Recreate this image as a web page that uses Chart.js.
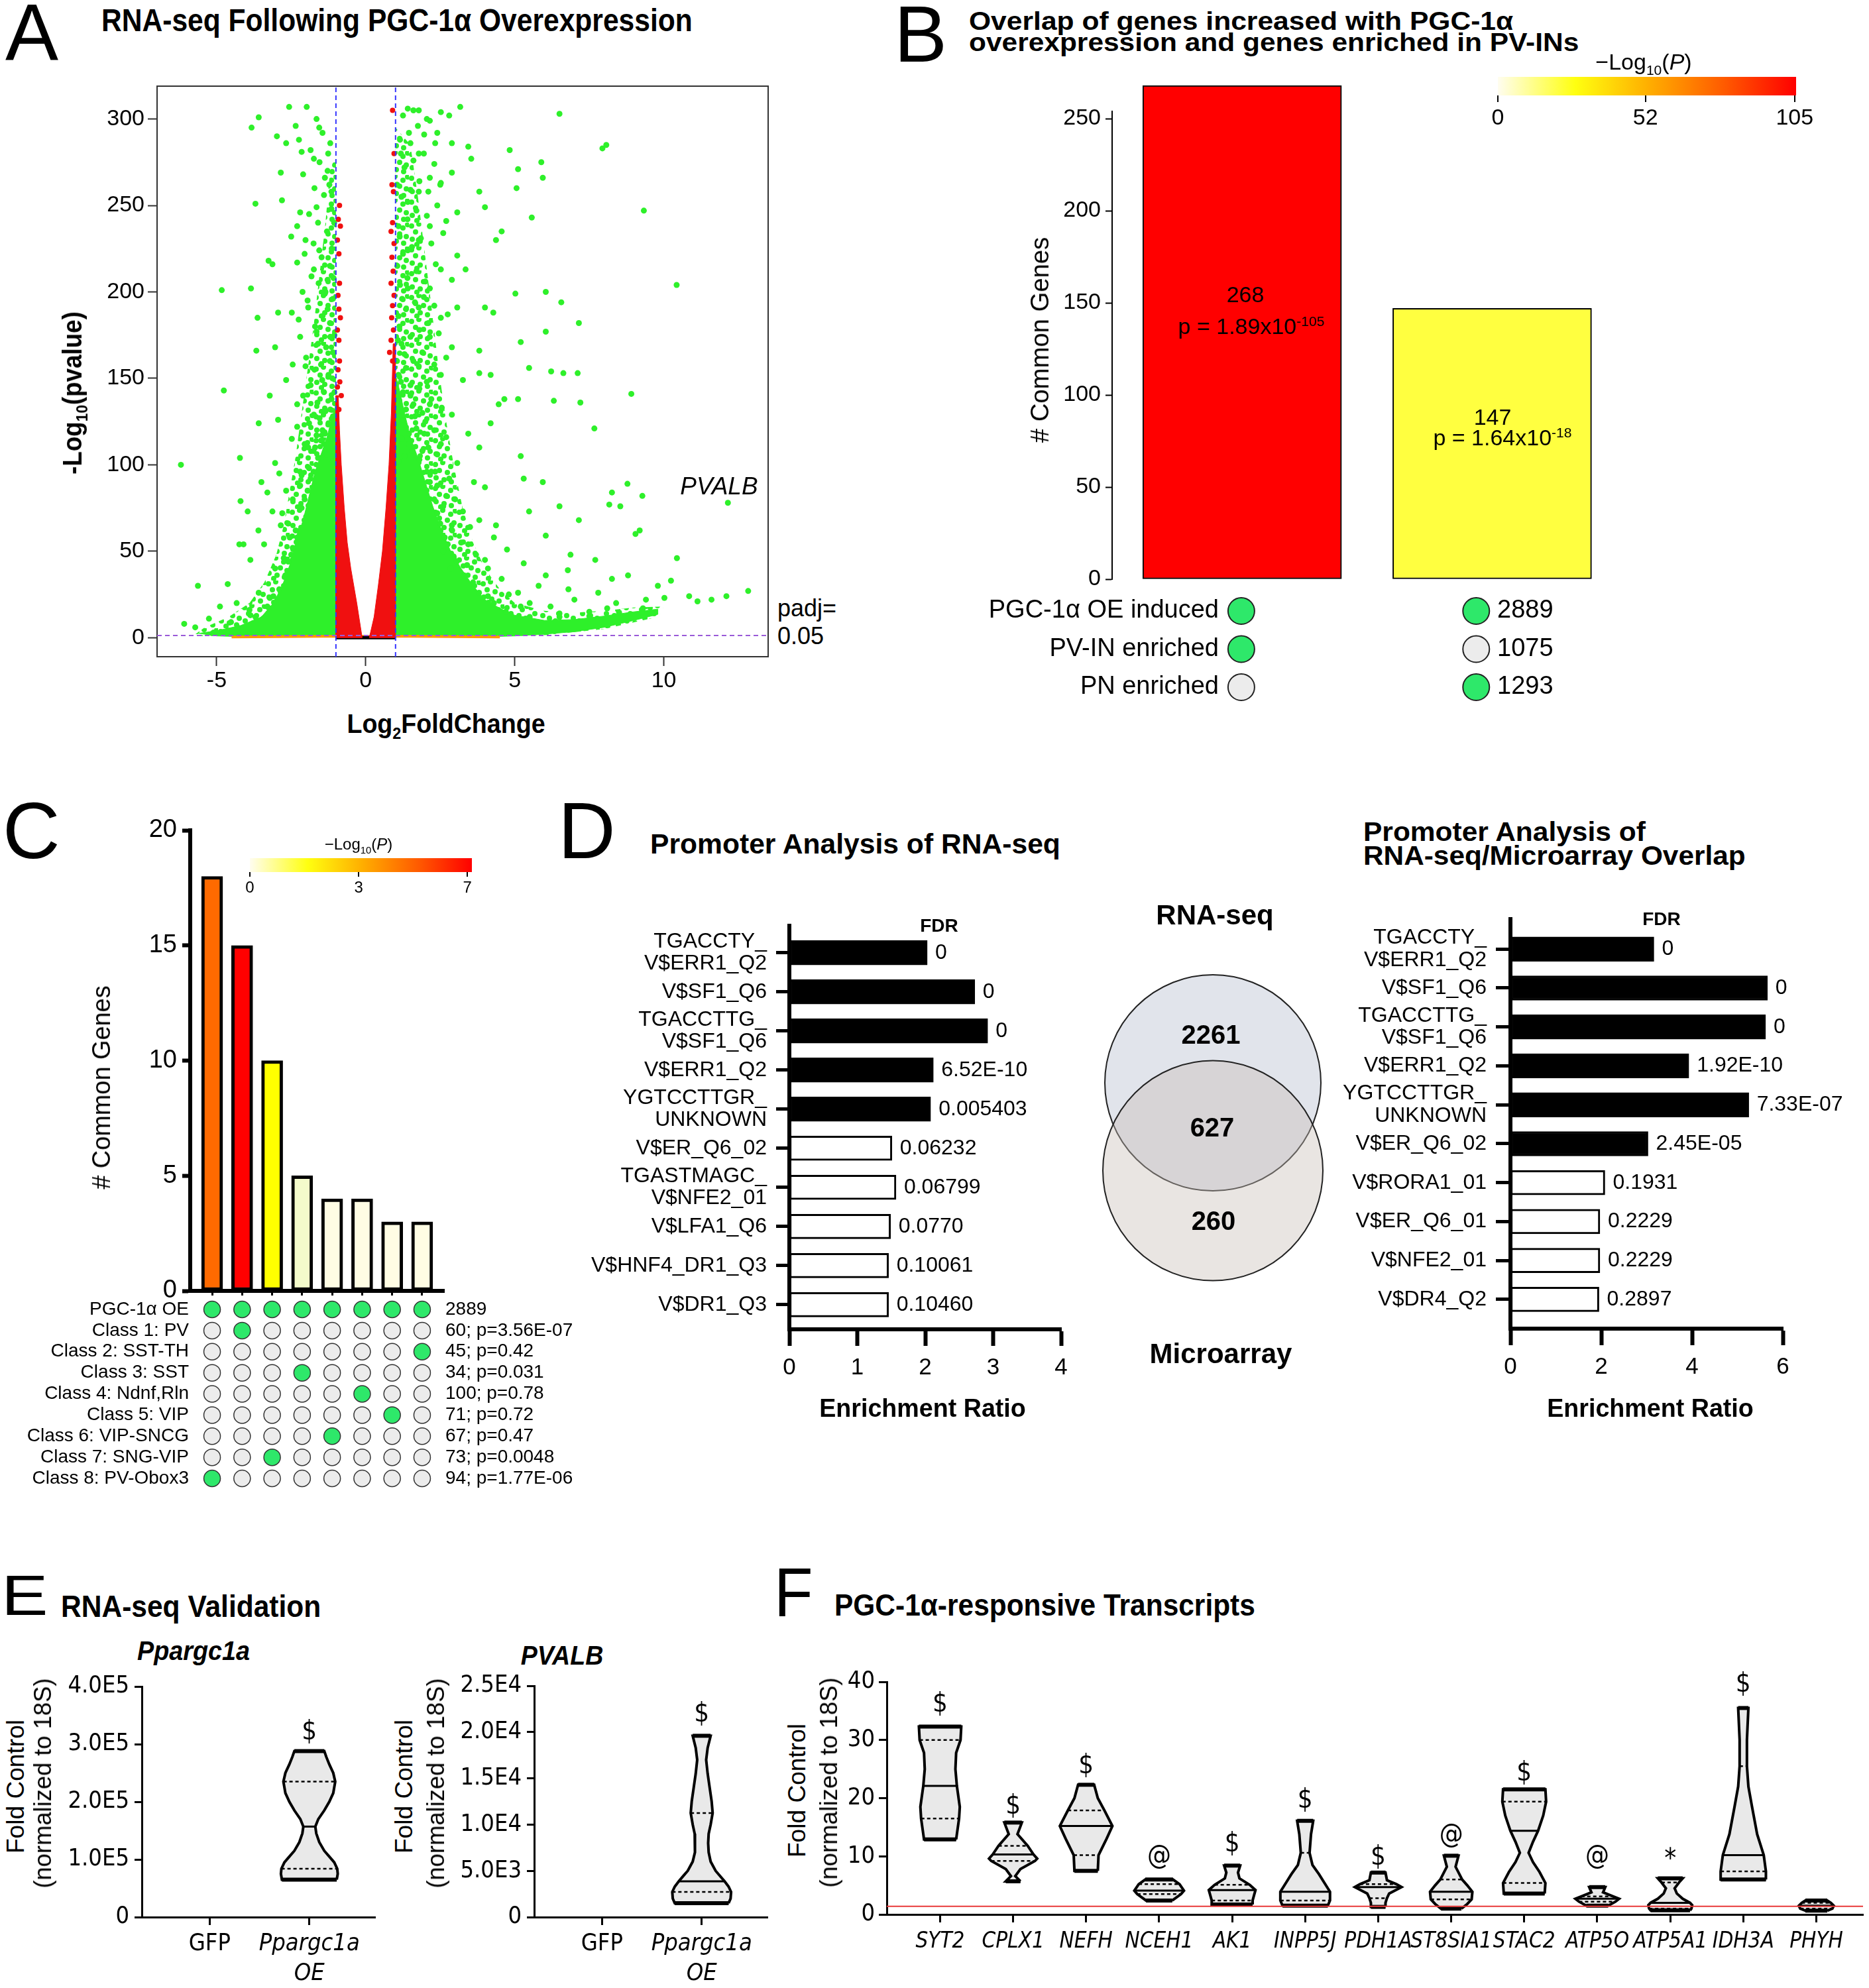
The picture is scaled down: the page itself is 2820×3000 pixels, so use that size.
<!DOCTYPE html>
<html>
<head>
<meta charset="utf-8">
<title>PGC-1α RNA-seq figure</title>
<script src="https://cdn.jsdelivr.net/npm/chart.js@4.4.1/dist/chart.umd.min.js"></script>
<style>
  body { margin: 0; background: #fff; }
  #page { position: relative; width: 2820px; height: 3000px; overflow: hidden; background: #fff; font-family: "Liberation Sans", Arial, sans-serif; }
  #page canvas { position: absolute; }
  .t { position: absolute; white-space: nowrap; line-height: 1; color: #000; transform-origin: 0 0; }
  .t sub, .t sup { font-size: 62%; line-height: 0; }
  .cb { position: absolute; }
</style>
</head>
<body>
<div id="page"></div>
<script>
// ---------- A: volcano plot ----------
const aXTicks = [-5, 0, 5, 10];
const aYTicks = [0, 50, 100, 150, 200, 250, 300];
const aXMin = -7, aXMax = 13.5, aYMin = -11, aYMax = 319;
const fcCut = 1;
const padjLevel = 1.3;
const greenPts = [
  [-6.2,100],[-4.83,201],[-4.76,143],[-5.63,30],[-4.63,31],[-4.22,104],[-4.2,79],[-3.85,202],[-3.83,295],[-3.59,301],
  [-3.7,251],[-3.63,185],[-3.67,166],[-4.24,54],[-4.1,54],[-3.87,45],[-3.6,62],[-3.26,218],[-3.13,216],[-2.98,290],
  [-2.94,188],[-3.04,168],[-2.85,269],[-2.81,253],[-2.67,286],[-2.57,307],[-1.98,307],[-2.24,288],[-2.15,281],[-1.56,295],
  [-1.74,277],[-1.19,286],[-1.26,280],[-1.37,266],[-1.15,258],[-1.65,249],[-2.2,246],[-2.3,238],[-2.02,230],[-1.56,224],
  [-2.3,217],[-1.74,213],[-1.28,207],[-1.37,199],[-1.93,191],[-2.48,188],[-2.2,174],[-1.65,177],[-1.19,174],[-2.02,157],
  [-2.67,149],[-3.22,140],[-1.46,149],[-2.3,135],[-1.74,129],[-1.19,132],[-2.94,126],[-3.59,124],[-2.48,115],[-1.93,110],
  [-1.37,118],[-3.04,101],[-2.2,96],[-3.5,90],[-2.67,85],[-3.96,73],[-3.13,73],[-3.41,54],[-2.85,65],[-4.89,18],
  [-4.33,20],[-5.26,11],[-5.72,6],[-6.09,8],[-3.59,26],[-3.04,40],[-3.22,23],[-3.87,13],[-4.52,9],
  [-1.1,102],[-1.3,106],[-1.5,104],[-1.75,108],[-2.05,112],[-1.2,115],[-1.45,120],[-1.65,117],[-1.9,124],[-2.3,122],
  [-1.1,128],[-1.35,131],[-1.55,127],[-1.15,138],[-1.4,142],[-1.62,136],[-1.85,146],[-2.1,140],[-1.25,152],[-1.5,158],
  [-1.72,155],[-2.0,162],[-2.45,158],[-1.1,165],[-1.33,168],[-1.6,170],[-1.2,182],[-1.45,186],[-1.7,180],[-1.95,195],
  [-2.25,184],[-1.1,196],[-1.35,200],[-1.58,205],[-1.82,209],[-2.12,200],[-1.2,215],[-1.48,220],[-1.75,228],[-2.05,222],
  [-1.3,235],[-1.6,240],[-1.9,245],[-2.5,232],[-1.15,248],[-1.4,256],[-1.72,260],[-1.28,270],[-1.55,275],[-1.85,282],
  [-2.1,268],[-1.45,292],[-1.65,300],[-2.35,296],
  [-2.3,58],[-2.6,66],[-2.45,80],[-2.2,88],[-2.8,72],[-1.9,98],[-2.15,94],[-3.3,84],[-2.9,95],
  [-2.7,36],[-2.5,48],[-2.35,62],[-2.15,75],[-1.95,85],[-1.75,96],[-3.3,18],[-3.7,12],[-4.3,6],[-2.9,28],
  [-2.45,52],[-3.1,24],[-2.6,44],[-2.05,80],[-1.85,92],[-1.6,104],[-1.4,112],[-1.25,124],[-1.08,118],[-1.18,108],
  [-1.05,142],[-1.12,150],[-1.2,160],[-1.05,175],[-1.28,190],[-1.08,208],[-1.14,225],[-1.06,240],[-1.22,262],
  [-3.9,16],[-4.6,4],[-5.1,3],[-2.75,46],[-2.55,58],[-2.0,70],[-1.7,110],[-1.5,114],
  [6.5,303],[8.07,285],[7.94,283],[4.83,282],[5.89,275],[5.94,266],[5.11,271],[5.06,260],[5.57,243],[9.33,247],
  [10.43,204],[5.02,199],[6.04,200],[6.56,194],[6.04,177],[7.15,182],[5.2,171],[5.48,156],[6.22,154],[6.63,153],
  [7.11,153],[5.11,138],[6.31,137],[7.2,136],[8.91,141],[7.67,121],[8.26,84],[8.78,89],[9.28,82],[8.17,77],
  [8.54,76],[7.15,68],[9.19,62],[9.05,60],[10.44,46],[10.24,33],[12.15,78],[10.85,24],[11.13,21],[11.6,22],
  [12.1,24],[12.83,27],[10.02,23],[6.5,76],[6.04,59],[5.48,73],[5.3,92],[5.2,105],[5.94,90],[6.87,48],
  [7.7,45],[8.26,34],[6.78,39],[6.04,36],[5.3,43],[4.74,51],[4.37,65],[4,87],[3.81,110],[4.19,124],
  [4.46,135],[4.65,138],[4.19,152],[3.81,153],[3.81,166],[4.28,188],[4,191],[4.37,230],[4.56,235],[4,249],
  [3.81,258],[3.54,277],[3.44,284],[3.17,307],[2.8,302],[2.52,304],[2.15,299],[1.78,305],[1.41,306],[2.89,286],
  [2.33,286],[1.96,291],[1.78,280],[1.5,286],[2.89,269],[2.52,263],[2.15,266],[1.78,258],[1.41,252],[3.07,246],
  [2.7,241],[2.15,238],[1.78,230],[1.41,224],[3.07,221],[3.35,213],[2.89,207],[2.52,213],[2.15,202],[1.78,191],
  [1.41,202],[1.13,180],[2.52,185],[3.07,191],[2.15,174],[2.89,168],[1.78,157],[2.52,152],[3.26,149],[1.5,140],
  [2.15,135],[2.89,129],[3.44,118],[2.52,112],[1.96,118],[3.07,101],[2.33,96],[3.63,90],[2.7,82],[3.26,73],
  [3.81,68],[2.89,65],[3.44,54],[4,45],[4.56,34],[5.11,26],
  [1.1,102],[1.3,105],[1.55,108],[1.8,103],[2.1,110],[2.4,106],[1.2,115],[1.45,118],[1.7,121],[2.0,125],
  [2.3,120],[2.7,116],[1.1,128],[1.35,132],[1.6,135],[1.9,130],[2.2,138],[2.55,133],[1.25,142],[1.5,146],
  [1.8,144],[2.05,148],[1.1,152],[1.35,156],[1.6,160],[1.9,165],[2.3,158],[2.7,162],[1.2,170],[1.5,174],
  [1.8,178],[2.1,182],[2.45,176],[1.1,186],[1.35,190],[1.65,194],[1.95,197],[2.3,192],[2.75,187],[1.15,204],
  [1.4,208],[1.7,212],[2.0,206],[2.35,216],[1.25,222],[1.55,226],[1.85,231],[2.2,228],[2.6,234],[1.1,238],
  [1.4,242],[1.7,247],[2.05,244],[2.4,250],[1.2,255],[1.5,259],[1.8,264],[2.1,258],[2.5,262],[1.3,272],
  [1.6,276],[1.95,280],[2.3,274],[1.15,288],[1.45,292],[1.75,296],[2.05,300],[2.4,292],[1.25,302],[1.6,305],
  [3.4,42],[3.2,55],[2.9,62],[3.7,48],[4.1,40],[2.6,76],[3.0,80],[2.4,88],[2.2,96],[3.5,64],[4.3,58],[2.8,92],
  [5.5,20],[6.2,18],[7,22],[7.5,15],[8.4,20],[6.8,28],[5.8,30],[4.8,25],[9.8,30],[8.8,36],[6.5,14],[7.8,26],
  [5.2,18],[9.4,22],[8.1,17],
  [3.3,36],[2.95,47],[2.65,58],[2.4,72],[2.15,90],[1.9,108],[1.65,128],[3.8,26],[4.3,20],[4.7,15],[5.5,12],
  [6.5,12],[7.5,12.5],[8.5,14.5],[9.3,17],[3.05,44],[2.75,54],[2.5,66],[2.3,80],[2.05,96],[1.45,112],[1.25,126],
  [1.08,140],[1.18,148],[1.05,160],[1.3,164],[1.08,172],[1.22,196],[1.06,215],[1.14,232],[1.05,262],[1.18,280],
  [3.6,32],[4.1,24],[2.85,40],[2.6,50]
];
const redPts = [
  [-0.88,250],[-0.92,242],[-0.85,238],[-0.95,230],[-0.9,222],[-0.88,205],[-0.93,198],[-0.9,190],[-0.85,185],
  [-0.95,178],[-0.9,172],[-0.88,160],[-0.93,155],[-0.87,148],[-0.95,145],[-0.82,140],[-0.9,132],
  [0.9,305],[0.95,280],[0.88,262],[0.93,258],[0.9,240],[0.85,235],[0.95,228],[0.88,220],[0.92,212],
  [0.85,205],[0.95,198],[0.9,192],[0.87,185],[0.93,178],[0.85,172],[0.8,165],[0.9,160]
];
// solid cores and the dotted haloes round them (outlines of the clouds)
const greenLeftCore = [[-1,0.5],[-4,0.5],[-5,1],[-5.6,2.5],[-5,4],[-4.2,7],[-3.5,12],[-3.1,20],[-2.8,30],[-2.55,42],
  [-2.35,55],[-2.1,68],[-1.9,82],[-1.7,96],[-1.5,106],[-1.3,116],[-1.15,126],[-1,135]];
const greenRightCore = [[1,0.5],[4,0.5],[5,1],[6,2],[7,3.5],[8,6],[9,10],[9.8,13.5],[9.8,16.5],[9,15],[8,12.5],
  [7,10.5],[6,10],[5,13],[4.5,17],[4,22],[3.6,30],[3.2,40],[2.85,50],[2.55,62],[2.25,76],[2,90],[1.75,104],
  [1.5,116],[1.3,130],[1.15,142],[1,152]];
const greenLeftHalo = [[-1,0.5],[-5.8,1],[-5.4,6],[-4.6,12],[-3.9,20],[-3.4,32],[-3.0,48],[-2.75,65],[-2.55,85],
  [-2.35,105],[-2.15,130],[-1.95,155],[-1.75,180],[-1.55,210],[-1.35,240],[-1.2,270],[-1,280]];
const greenRightHalo = [[1,0.5],[4,0.5],[6,1.5],[8,5],[9.8,12],[10,18],[9,17.5],[8,15.5],[7,14.5],[6,15.5],[5,20],
  [4.5,28],[4,40],[3.6,55],[3.25,75],[2.95,100],[2.7,125],[2.45,155],[2.25,185],[2,220],[1.75,255],[1.5,285],[1,295]];
const redLeftCore = [[-1,0],[-0.12,0],[-0.3,20],[-0.5,40],[-0.62,55],[-0.72,75],[-0.82,100],[-0.88,120],[-0.92,140],[-1,140]];
const redRightCore = [[0.12,0],[1,0],[1,170],[0.92,170],[0.86,130],[0.78,100],[0.68,75],[0.56,50],[0.42,30],[0.28,12]];
const notSigLine = [[-4.5,0.4],[-3,0.6],[-1.5,0.8],[1.5,0.8],[3,0.6],[4.5,0.4]];
const zeroLine = [[-1,0],[1,0]];

// ---------- B: overlap bars ----------
const bValues = [268, 147];
const bPText = ['1.89x10<sup>-105</sup>', '1.64x10<sup>-18</sup>'];
const bColors = ['#ff0000', '#ffff40'];
const bYTicks = [0, 50, 100, 150, 200, 250];
const bRowLabels = ['PGC-1α OE induced', 'PV-IN enriched', 'PN enriched'];
const bSetCounts = ['2889', '1075', '1293'];
const bMembership = [[1, 1, 0], [1, 0, 1]];
const bScaleLabels = ['0', '52', '105'];

// ---------- C: cell-class overlap ----------
const cValues = [18, 15, 10, 5, 4, 4, 3, 3];
const cColors = ['#ff6a00', '#ff0000', '#ffff00', '#f4fbcb', '#fffde4', '#fffde4', '#fffde4', '#fffde4'];
const cYTicks = [0, 5, 10, 15, 20];
const cRowLabels = ['PGC-1α OE', 'Class 1: PV', 'Class 2: SST-TH', 'Class 3: SST', 'Class 4: Ndnf,Rln',
  'Class 5: VIP', 'Class 6: VIP-SNCG', 'Class 7: SNG-VIP', 'Class 8: PV-Obox3'];
const cRowInfo = ['2889', '60; p=3.56E-07', '45; p=0.42', '34; p=0.031', '100; p=0.78', '71; p=0.72',
  '67; p=0.47', '73; p=0.0048', '94; p=1.77E-06'];
const cGreen = [[0, 1, 2, 3, 4, 5, 6, 7], [1], [7], [3], [5], [6], [4], [2], [0]];
const cScaleLabels = ['0', '3', '7'];

// ---------- D: promoter analysis ----------
const dLeftLabels = [['TGACCTY_', 'V$ERR1_Q2'], 'V$SF1_Q6', ['TGACCTTG_', 'V$SF1_Q6'], 'V$ERR1_Q2',
  ['YGTCCTTGR_', 'UNKNOWN'], 'V$ER_Q6_02', ['TGASTMAGC_', 'V$NFE2_01'], 'V$LFA1_Q6', 'V$HNF4_DR1_Q3', 'V$DR1_Q3'];
const dLeftValues = [2.03, 2.73, 2.92, 2.12, 2.08, 1.51, 1.57, 1.49, 1.46, 1.46];
const dLeftFdr = ['0', '0', '0', '6.52E-10', '0.005403', '0.06232', '0.06799', '0.0770', '0.10061', '0.10460'];
const dLeftSig = 5;
const dLeftXTicks = [0, 1, 2, 3, 4];
const dRightLabels = [['TGACCTY_', 'V$ERR1_Q2'], 'V$SF1_Q6', ['TGACCTTG_', 'V$SF1_Q6'], 'V$ERR1_Q2',
  ['YGTCCTTGR_', 'UNKNOWN'], 'V$ER_Q6_02', 'V$RORA1_01', 'V$ER_Q6_01', 'V$NFE2_01', 'V$DR4_Q2'];
const dRightValues = [3.16, 5.66, 5.62, 3.93, 5.25, 3.03, 2.08, 1.97, 1.97, 1.95];
const dRightFdr = ['0', '0', '0', '1.92E-10', '7.33E-07', '2.45E-05', '0.1931', '0.2229', '0.2229', '0.2897'];
const dRightSig = 6;
const dRightXTicks = [0, 2, 4, 6];
const vennNames = ['RNA-seq', 'Microarray'];
const vennCounts = [2261, 627, 260];

// ---------- E: validation violins ----------
const eCats = ['GFP', ['Ppargc1a', 'OE']];
const e1Ticks = [0, 1e5, 2e5, 3e5, 4e5];
const e1TickLabels = ['0', '1.0E5', '2.0E5', '3.0E5', '4.0E5'];
const e1Levels = [0.65e5, 0.75e5, 0.84e5, 0.95e5, 1.05e5, 1.15e5, 1.3e5, 1.45e5, 1.57e5, 1.7e5, 1.85e5,
  2.0e5, 2.15e5, 2.35e5, 2.5e5, 2.65e5, 2.78e5, 2.88e5];
const e1Widths = [0.275, 0.285, 0.28, 0.25, 0.2, 0.15, 0.1, 0.07, 0.06, 0.09, 0.15, 0.2, 0.24, 0.26, 0.24, 0.2, 0.17, 0.15];
const e1Stats = [1.57e5, 0.84e5, 2.35e5];
const e1Mark = 3.2e5;
const e2Ticks = [0, 5e3, 1e4, 1.5e4, 2e4, 2.5e4];
const e2TickLabels = ['0', '5.0E3', '1.0E4', '1.5E4', '2.0E4', '2.5E4'];
const e2Levels = [1500, 2000, 2720, 3300, 3870, 4500, 5000, 6000, 7000, 8000, 9000, 10000, 11250, 12500,
  14000, 15500, 17000, 18300, 19600];
const e2Widths = [0.27, 0.29, 0.295, 0.27, 0.23, 0.18, 0.14, 0.09, 0.07, 0.065, 0.07, 0.09, 0.11, 0.1,
  0.08, 0.06, 0.045, 0.06, 0.09];
const e2Stats = [3870, 2720, 11250];
const e2Mark = 21900;

// ---------- F: responsive transcripts ----------
const fGenes = ['SYT2', 'CPLX1', 'NEFH', 'NCEH1', 'AK1', 'INPP5J', 'PDH1A', 'ST8SIA1', 'STAC2', 'ATP5O', 'ATP5A1', 'IDH3A', 'PHYH'];
const fYTicks = [0, 10, 20, 30, 40];
const fLevels = [
  [12.9, 14.7, 16.5, 18.5, 22.1, 25, 27.8, 30, 32.3],
  [5.7, 6.6, 7.8, 9.2, 9.6, 10.3, 11.8, 13.8, 15.8],
  [7.5, 10.2, 13, 15.2, 17.9, 20, 22.3],
  [2.4, 3.5, 4.1, 5.2, 6.0],
  [1.7, 2.4, 3.3, 4.2, 5.1, 6.2, 7.2, 8.4],
  [1.5, 2.4, 3.9, 5.5, 6.9, 8.5, 10.6, 13.8, 16.1],
  [1.3, 2.0, 2.8, 3.6, 4.7, 5.2, 5.9, 7.2],
  [1.0, 1.8, 2.6, 3.9, 5.0, 6.0, 8.2, 10.1],
  [3.6, 5.4, 7.3, 9, 10.6, 12.5, 14.4, 17, 19.4, 21.5],
  [1.5, 2.2, 2.7, 3.1, 3.8, 4.7],
  [0.7, 1.0, 1.6, 2.0, 2.7, 3.6, 4.5, 5.5, 6.2],
  [6.0, 7.4, 10.2, 13.8, 18.5, 22, 25.5, 30, 35.5],
  [0.65, 1.0, 1.5, 2.0, 2.4]
];
const fWidths = [
  [0.22, 0.24, 0.26, 0.27, 0.23, 0.21, 0.22, 0.28, 0.29],
  [0.1, 0.03, 0.1, 0.3, 0.33, 0.28, 0.2, 0.06, 0.12],
  [0.16, 0.17, 0.28, 0.36, 0.25, 0.16, 0.11],
  [0.18, 0.3, 0.34, 0.28, 0.19],
  [0.28, 0.28, 0.3, 0.32, 0.24, 0.1, 0.08, 0.11],
  [0.31, 0.34, 0.34, 0.26, 0.19, 0.1, 0.06, 0.08, 0.11],
  [0.1, 0.1, 0.12, 0.15, 0.32, 0.25, 0.12, 0.1],
  [0.14, 0.22, 0.28, 0.29, 0.22, 0.15, 0.06, 0.1],
  [0.28, 0.29, 0.21, 0.12, 0.06, 0.12, 0.19, 0.26, 0.3, 0.29],
  [0.15, 0.25, 0.3, 0.22, 0.08, 0.11],
  [0.27, 0.29, 0.3, 0.27, 0.17, 0.09, 0.06, 0.12, 0.17],
  [0.31, 0.31, 0.28, 0.19, 0.12, 0.07, 0.05, 0.05, 0.07],
  [0.15, 0.22, 0.24, 0.2, 0.15]
];
const fMed = [22.1, 10.3, 15.2, 4.1, 4.2, 3.9, 4.7, 3.9, 14.4, 2.7, 2.0, 10.2, 1.5];
const fQ1 = [16.5, 9.2, 10.2, 3.5, 2.4, 2.4, 2.8, 2.6, 5.4, 2.2, 1.0, 7.4, 1.0];
const fQ3 = [30, 11.8, 17.9, 5.2, 5.1, 10.6, 5.2, 6.0, 19.4, 3.1, 5.5, 25.5, 2.0];
const fMarks = ['$', '$', '$', '@', '$', '$', '$', '@', '$', '@', '*', '$', ''];
const fMarkY = [36, 18.5, 25.5, 9.8, 12, 19.5, 9.7, 13.5, 24.2, 9.8, 9.3, 39.5, 0];
const fRef = 1.4;
const fXMin = -0.73, fXMax = 12.64;

// ================= helpers =================
const AF = '"Liberation Sans", Arial, Helvetica, sans-serif';
const NF = '"Liberation Sans Narrow", "Arial Narrow", "DejaVu Sans Condensed", "Liberation Sans", sans-serif';
Chart.defaults.font.family = AF;
Chart.defaults.color = '#000';
Chart.defaults.plugins.legend.display = false;
Chart.defaults.plugins.tooltip.enabled = false;

const page = document.getElementById('page');

function txt(html, x, y, size, o) {
  o = o || {};
  const d = document.createElement('div');
  d.className = 't';
  d.innerHTML = html;
  d.style.fontSize = size + 'px';
  d.style.fontWeight = o.b ? 'bold' : 'normal';
  if (o.i) d.style.fontStyle = 'italic';
  if (o.f) d.style.fontFamily = o.f;
  page.appendChild(d);
  const sx = o.w ? o.w / d.offsetWidth : 1;
  const tx = o.a === 'l' ? '0' : o.a === 'r' ? '-100%' : '-50%';
  d.style.left = x + 'px';
  d.style.top = y + 'px';
  d.style.transform = (o.rot ? 'rotate(-90deg) ' : '') + 'scaleX(' + sx + ') translate(' + tx + ',-50%)';
}

function colorbar(l, t, w, h, fracs, labels, size, labelY) {
  const d = document.createElement('div');
  d.className = 'cb';
  Object.assign(d.style, {
    left: l + 'px', top: t + 'px', width: w + 'px', height: h + 'px',
    background: 'linear-gradient(to right, #fffdf0 0%, #ffff10 26%, #ffb000 50%, #ff5a00 76%, #ff0000 100%)'
  });
  page.appendChild(d);
  fracs.forEach((f, i) => {
    const x = l + f * w;
    const tk = document.createElement('div');
    tk.className = 'cb';
    Object.assign(tk.style, { left: (x - 1) + 'px', top: (t + h) + 'px', width: '2px', height: Math.round(h * 0.35) + 'px', background: '#000' });
    page.appendChild(tk);
    txt(labels[i], x, labelY, size);
  });
}

// a speckled fill so the dense part of the cloud reads as many dots
function dotPattern(color) {
  const c = document.createElement('canvas');
  c.width = 36; c.height = 36;
  const g = c.getContext('2d');
  g.fillStyle = color;
  [[4, 5], [15, 2], [27, 8], [10, 14], [22, 17], [32, 21], [5, 25], [17, 28], [28, 31], [12, 33], [34, 3]].forEach(p => {
    g.beginPath(); g.arc(p[0], p[1], 4, 0, Math.PI * 2); g.fill();
  });
  return g.createPattern(c, 'repeat');
}

// fix axis box sizes so chart areas land where the figure has them
function fit(n) {
  return function (ax) {
    if (ax.isHorizontal()) ax.height = n; else ax.width = n;
    ax.paddingLeft = ax.paddingRight = ax.paddingTop = ax.paddingBottom = 0;
  };
}
function axis(o) {
  const vals = o.ticks || [];
  return {
    type: 'linear', position: o.pos, min: o.min, max: o.max, reverse: !!o.reverse, offset: false,
    display: o.display !== false,
    afterFit: fit(o.size || 0),
    afterBuildTicks: ax => { ax.ticks = vals.map(v => ({ value: v })); },
    grid: { display: true, offset: false, drawOnChartArea: false, drawTicks: !!o.tickLen, tickLength: o.tickLen || 0,
      tickWidth: o.tickW || 2, tickColor: o.color || '#000' },
    border: { display: o.border !== false, width: o.lineW || 2, color: o.color || '#000' },
    ticks: { display: o.labels !== false, padding: o.pad || 0, font: o.font || { size: 34 },
      callback: o.cb || (v => v), autoSkip: false, maxRotation: 0, minRotation: 0, color: '#000' }
  };
}

// area = [left, top, right, bottom] of the chart area in page pixels; m = canvas margins
function mk(area, m, cfg) {
  const cv = document.createElement('canvas');
  const w = area[2] - area[0] + m.l + m.r, h = area[3] - area[1] + m.t + m.b;
  cv.width = w; cv.height = h;
  cv.style.left = (area[0] - m.l) + 'px';
  cv.style.top = (area[1] - m.t) + 'px';
  cv.style.width = w + 'px';
  cv.style.height = h + 'px';
  page.appendChild(cv);
  cfg.options = Object.assign({ responsive: false, animation: false, devicePixelRatio: 1, events: [] }, cfg.options);
  return new Chart(cv, cfg);
}

const dataText = {
  id: 'dataText',
  afterDatasetsDraw(chart, args, opts) {
    if (!opts || !opts.items) return;
    const ctx = chart.ctx;
    ctx.save();
    opts.items.forEach(it => {
      ctx.font = it.font;
      ctx.fillStyle = '#000';
      ctx.textAlign = it.align || 'center';
      ctx.textBaseline = 'middle';
      const x = chart.scales.x.getPixelForValue(it.x) + (it.dx || 0);
      const y = chart.scales.y.getPixelForValue(it.y) + (it.dy || 0);
      ctx.fillText(it.text, x, y);
    });
    ctx.restore();
  }
};
Chart.register(dataText);

const toPts = arr => arr.map(p => ({ x: p[0], y: p[1] }));
function poly(arr, color, edge) {
  const pts = toPts(arr);
  pts.push(pts[0]);
  return { data: pts, showLine: true, fill: 'shape', backgroundColor: color, borderColor: edge || color,
    borderWidth: edge === 'transparent' ? 0 : 1, pointRadius: 0 };
}
function segLine(pts, color, width, dash) {
  return { data: pts, showLine: true, fill: false, borderColor: color, borderWidth: width,
    borderDash: dash || [], pointRadius: 0 };
}
function violin(c, L, W, stats) {
  const right = L.map((v, j) => ({ x: c + W[j], y: v }));
  const left = L.map((v, j) => ({ x: c - W[j], y: v })).reverse();
  const pts = right.concat(left);
  pts.push(pts[0]);
  const out = [{ data: pts, showLine: true, fill: 'shape', backgroundColor: '#e9e9e9', borderColor: '#000',
    borderWidth: 4, pointRadius: 0, order: 1 }];
  const across = (v, width, dash) => {
    const j = L.indexOf(v);
    const s = segLine([{ x: c - W[j], y: v }, { x: c + W[j], y: v }], '#000', width, dash);
    s.order = 0;
    return s;
  };
  out.push(across(L[0], 6));
  out.push(across(L[L.length - 1], 6));
  out.push(across(stats[0], 3));
  out.push(across(stats[1], 2.5, [5, 4]));
  out.push(across(stats[2], 2.5, [5, 4]));
  return out;
}

// ================= A =================
const GREEN = '#2ef02a';
mk([237, 130, 1159, 991], { t: 10, r: 10, b: 70, l: 160 }, {
  type: 'scatter',
  data: { datasets: [
    segLine([{ x: -fcCut, y: aYMin }, { x: -fcCut, y: aYMax }], '#3535ff', 2, [7, 5]),
    segLine([{ x: fcCut, y: aYMin }, { x: fcCut, y: aYMax }], '#3535ff', 2, [7, 5]),
    segLine([{ x: aXMin, y: padjLevel }, { x: aXMax, y: padjLevel }], '#9a5ad8', 2, [7, 5]),
    { data: toPts(redPts), backgroundColor: '#f01010', pointRadius: 4, pointBorderWidth: 0 },
    poly(redLeftCore, '#f01010'),
    poly(redRightCore, '#f01010'),
    segLine(toPts(zeroLine), '#000', 5),
    segLine(toPts(notSigLine), '#ff9a00', 4),
    { data: toPts(greenPts), backgroundColor: GREEN, pointRadius: 4.5, pointBorderWidth: 0 },
    poly(greenLeftCore, GREEN),
    poly(greenRightCore, GREEN),
    poly(greenLeftHalo, dotPattern(GREEN), 'transparent'),
    poly(greenRightHalo, dotPattern(GREEN), 'transparent')
  ] },
  options: {
    layout: { padding: { top: 10, right: 10, left: 0, bottom: 0 } },
    scales: {
      x: axis({ pos: 'bottom', min: aXMin, max: aXMax, ticks: aXTicks, size: 70, tickLen: 14, pad: 2, color: '#333', font: { size: 34 } }),
      y: axis({ pos: 'left', min: aYMin, max: aYMax, ticks: aYTicks, size: 160, tickLen: 14, pad: 5, color: '#333', font: { size: 34 } }),
      x2: axis({ pos: 'top', min: aXMin, max: aXMax, size: 0, labels: false, color: '#333' }),
      y2: axis({ pos: 'right', min: aYMin, max: aYMax, size: 0, labels: false, color: '#333' })
    }
  }
});
txt('A', 8, 48, 120, { a: 'l' });
txt('RNA-seq Following PGC-1α Overexpression', 153, 31, 48, { a: 'l', b: 1, w: 892 });
txt('-Log<sub>10</sub>(pvalue)', 109, 593, 40, { b: 1, rot: 1, w: 246 });
txt('Log<sub>2</sub>FoldChange', 673, 1092, 40, { b: 1, w: 299 });
txt('PVALB', 1085, 733, 37, { i: 1 });
txt('padj=', 1173, 918, 36, { a: 'l' });
txt('0.05', 1173, 960, 36, { a: 'l' });

// ================= B =================
mk([1678, 168, 2440, 874], { t: 50, r: 10, b: 10, l: 120 }, {
  type: 'bar',
  data: { datasets: [{
    data: bValues.map((v, i) => ({ x: i, y: v })),
    backgroundColor: bColors, borderColor: '#000', borderWidth: 2, borderSkipped: false,
    barThickness: 300, clip: false
  }] },
  options: {
    layout: { padding: { top: 50, right: 10, bottom: 10, left: 0 } },
    scales: {
      x: axis({ pos: 'bottom', min: -0.52, max: 1.5, display: false }),
      y: axis({ pos: 'left', min: 0, max: 254, ticks: bYTicks, size: 120, tickLen: 10, pad: 7, font: { size: 34 } })
    }
  }
});
mk([1841, 922, 2245, 1037], { t: 30, r: 120, b: 30, l: 380 }, {
  type: 'scatter',
  data: { datasets: [{
    data: bMembership.flatMap((col, c) => col.map((on, r) => ({ x: c, y: r }))),
    pointBackgroundColor: bMembership.flatMap(col => col.map(on => on ? '#2ee86a' : '#ececec')),
    pointBorderColor: '#222', pointBorderWidth: 2, pointRadius: 20, clip: false
  }] },
  options: {
    layout: { padding: { top: 30, right: 0, bottom: 30, left: 0 } },
    scales: {
      x: axis({ pos: 'bottom', min: -0.09, max: 1.05, display: false }),
      y: axis({ pos: 'left', min: 0, max: 2, reverse: true, ticks: [0, 1, 2], size: 380, pad: 2, border: false,
        font: { size: 38 }, cb: (v, i) => bRowLabels[i] }),
      y2: axis({ pos: 'right', min: 0, max: 2, reverse: true, ticks: [0, 1, 2], size: 120, pad: 14, border: false,
        font: { size: 38 }, cb: (v, i) => bSetCounts[i] })
    }
  }
});
txt('B', 1349, 51, 120, { a: 'l' });
txt('Overlap of genes increased with PGC-1α', 1462, 31, 39, { a: 'l', b: 1, w: 821 });
txt('overexpression and genes enriched in PV-INs', 1462, 63, 39, { a: 'l', b: 1, w: 920 });
txt('# Common Genes', 1569, 513, 38, { rot: 1, w: 310 });
txt(String(bValues[0]), 1879, 444, 34);
txt('p = ' + bPText[0], 1888, 492, 34);
txt(String(bValues[1]), 2252, 629, 34);
txt('p = ' + bPText[1], 2267, 660, 34);
colorbar(2260, 116, 450, 28, [0, 0.495, 0.995], bScaleLabels, 34, 176);
txt('−Log<sub>10</sub>(<i>P</i>)', 2480, 93, 34);

// ================= C =================
mk([287, 1253, 670, 1948], { t: 30, r: 10, b: 20, l: 120 }, {
  type: 'bar',
  data: { datasets: [{
    data: cValues.map((v, i) => ({ x: i, y: v })),
    backgroundColor: cColors, borderColor: '#000', borderWidth: 5, borderSkipped: false, barThickness: 32
  }] },
  options: {
    layout: { padding: { top: 30, right: 10, bottom: 0, left: 0 } },
    scales: {
      x: axis({ pos: 'bottom', min: -0.73, max: 7.73, ticks: [0, 1, 2, 3, 4, 5, 6, 7], size: 20, tickLen: 7, tickW: 3, lineW: 6, labels: false }),
      y: axis({ pos: 'left', min: 0, max: 20, ticks: cYTicks, size: 120, tickLen: 12, tickW: 6, lineW: 6, pad: 8, font: { size: 38 } })
    }
  }
});
mk([287, 1976, 670, 2231], { t: 16, r: 230, b: 16, l: 285 }, {
  type: 'scatter',
  data: { datasets: [{
    data: cGreen.flatMap((g, r) => cValues.map((v, c) => ({ x: c, y: r }))),
    pointBackgroundColor: cGreen.flatMap(g => cValues.map((v, c) => g.indexOf(c) >= 0 ? '#2ee86a' : '#ececec')),
    pointBorderColor: '#333', pointBorderWidth: 1.5, pointRadius: 12.5, clip: false
  }] },
  options: {
    layout: { padding: { top: 16, right: 0, bottom: 16, left: 0 } },
    scales: {
      x: axis({ pos: 'bottom', min: -0.73, max: 7.73, display: false }),
      y: axis({ pos: 'left', min: 0, max: 8, reverse: true, ticks: [0, 1, 2, 3, 4, 5, 6, 7, 8], size: 285, pad: 2,
        border: false, font: { size: 28 }, cb: (v, i) => cRowLabels[i] }),
      y2: axis({ pos: 'right', min: 0, max: 8, reverse: true, ticks: [0, 1, 2, 3, 4, 5, 6, 7, 8], size: 230, pad: 2,
        border: false, font: { size: 28 }, cb: (v, i) => cRowInfo[i] })
    }
  }
});
txt('C', 4, 1253, 120, { a: 'l' });
txt('# Common Genes', 153, 1641, 38, { rot: 1, w: 307 });
colorbar(377, 1295, 335, 21, [0, 0.49, 0.98], cScaleLabels, 24, 1339);
txt('−Log<sub>10</sub>(<i>P</i>)', 541, 1274, 24);

// ================= D =================
function promoter(area, labels, values, fdr, nSig, xTicks, xMax, yMin, yMax, tickL) {
  return mk(area, { t: 10, r: 125, b: 100, l: 300 }, {
    type: 'bar',
    data: { datasets: [{
      data: values.map((v, i) => ({ x: v, y: i })),
      backgroundColor: values.map((v, i) => i < nSig ? '#000' : '#fff'),
      borderColor: '#000', borderWidth: 3, borderSkipped: false, barThickness: 37
    }] },
    options: {
      indexAxis: 'y',
      layout: { padding: { top: 10, right: 125, bottom: 0, left: 0 } },
      scales: {
        x: axis({ pos: 'bottom', min: 0, max: xMax, ticks: xTicks, size: 100, tickLen: 25, tickW: 6, lineW: 6, pad: 12, font: { size: 35 } }),
        y: axis({ pos: 'left', min: yMin, max: yMax, reverse: true, ticks: labels.map((l, i) => i), size: 300, tickLen: tickL,
          tickW: 5, lineW: 6, pad: 14, font: { size: 32, lineHeight: 1.05 }, cb: (v, i) => labels[i] })
      },
      plugins: { dataText: { items: fdr.map((t, i) => ({ x: values[i], y: i, text: t, dx: 12, align: 'left', font: '32px ' + AF })) } }
    }
  });
}
promoter([1191, 1397, 1601, 2006], dLeftLabels, dLeftValues, dLeftFdr, dLeftSig, dLeftXTicks, 4, -0.69, 9.63, 20);
promoter([2279, 1387, 2690, 2005], dRightLabels, dRightValues, dRightFdr, dRightSig, dRightXTicks, 6, -0.77, 9.75, 22);
mk([1660, 1380, 2000, 2020], { t: 0, r: 0, b: 0, l: 0 }, {
  type: 'bubble',
  data: { datasets: [{
    data: [{ x: 0.503, y: 0.283, r: 163 }, { x: 0.503, y: 0.719, r: 166 }],
    backgroundColor: ['rgba(188,195,210,0.45)', 'rgba(200,190,182,0.4)'],
    borderColor: '#222', borderWidth: 2, clip: false
  }] },
  options: {
    scales: {
      x: { type: 'linear', display: false, min: 0, max: 1 },
      y: { type: 'linear', display: false, min: 0, max: 1, reverse: true }
    }
  }
});
txt('D', 842, 1253, 120, { a: 'l' });
txt('Promoter Analysis of RNA-seq', 981, 1274, 42, { a: 'l', b: 1, w: 619 });
txt('Promoter Analysis of', 2057, 1255, 40, { a: 'l', b: 1, w: 426 });
txt('RNA-seq/Microarray Overlap', 2057, 1291, 40, { a: 'l', b: 1, w: 577 });
txt('FDR', 1417, 1397, 28, { b: 1 });
txt('FDR', 2507, 1387, 28, { b: 1 });
txt('Enrichment Ratio', 1392, 2125, 38, { b: 1, w: 312 });
txt('Enrichment Ratio', 2490, 2125, 38, { b: 1, w: 312 });
txt(vennNames[0], 1833, 1381, 42, { b: 1 });
txt(vennNames[1], 1842, 2043, 42, { b: 1 });
txt(String(vennCounts[0]), 1827, 1561, 40, { b: 1 });
txt(String(vennCounts[1]), 1829, 1701, 40, { b: 1 });
txt(String(vennCounts[2]), 1831, 1842, 40, { b: 1 });

// ================= E =================
function eChart(area, levels, widths, stats, yTicks, yLabels, mark) {
  mk(area, { t: 20, r: 20, b: 100, l: 130 }, {
    type: 'scatter',
    data: { datasets: violin(2, levels, widths, stats) },
    options: {
      layout: { padding: { top: 20, right: 20, bottom: 0, left: 0 } },
      scales: {
        x: axis({ pos: 'bottom', min: 0.32, max: 2.66, ticks: [1, 2], size: 100, tickLen: 12, tickW: 3, lineW: 3, pad: 6,
          font: ctx => ({ family: NF, size: 36, lineHeight: 1.25, style: ctx.index === 1 ? 'italic' : 'normal' }),
          cb: (v, i) => eCats[i] }),
        y: axis({ pos: 'left', min: 0, max: yTicks[yTicks.length - 1], ticks: yTicks, size: 130, tickLen: 11, tickW: 3, lineW: 3,
          pad: 8, font: { family: NF, size: 36 }, cb: (v, i) => yLabels[i] })
      },
      plugins: { dataText: { items: [{ x: 2, y: mark, text: '$', font: '40px ' + NF }] } }
    }
  });
}
eChart([214, 2545, 566, 2893], e1Levels, e1Widths, e1Stats, e1Ticks, e1TickLabels, e1Mark);
eChart([806, 2544, 1158, 2893], e2Levels, e2Widths, e2Stats, e2Ticks, e2TickLabels, e2Mark);
txt('E', 2, 2407, 86, { a: 'l', w: 70 });
txt('RNA-seq Validation', 92, 2424, 46, { a: 'l', b: 1, w: 392 });
txt('Ppargc1a', 292, 2491, 40, { b: 1, i: 1, w: 170 });
txt('PVALB', 848, 2498, 40, { b: 1, i: 1, w: 125 });
txt('Fold Control', 24, 2696, 36, { rot: 1, w: 202 });
txt('(normalized to 18S)', 65, 2691, 36, { rot: 1, w: 317 });
txt('Fold Control', 610, 2696, 36, { rot: 1, w: 202 });
txt('(normalized to 18S)', 658, 2691, 36, { rot: 1, w: 317 });

// ================= F =================
const fSets = [segLine([{ x: fXMin, y: fRef }, { x: fXMax, y: fRef }], '#e83a3a', 2)];
fGenes.forEach((g, i) => { fSets.push(...violin(i, fLevels[i], fWidths[i], [fMed[i], fQ1[i], fQ3[i]])); });
mk([1338, 2538, 2811, 2889], { t: 20, r: 8, b: 70, l: 90 }, {
  type: 'scatter',
  data: { datasets: fSets },
  options: {
    layout: { padding: { top: 20, right: 8, bottom: 0, left: 0 } },
    scales: {
      x: axis({ pos: 'bottom', min: fXMin, max: fXMax, ticks: fGenes.map((g, i) => i), size: 70, tickLen: 12, tickW: 3, lineW: 3, pad: 10,
        font: { family: NF, size: 33, style: 'italic' }, cb: (v, i) => fGenes[i] }),
      y: axis({ pos: 'left', min: 0, max: 40, ticks: fYTicks, size: 90, tickLen: 12, tickW: 3, lineW: 3, pad: 6,
        font: { family: NF, size: 36 } })
    },
    plugins: { dataText: { items: fMarks.map((m, i) => ({ x: i, y: fMarkY[i], text: m, font: '40px ' + NF })).filter(it => it.text) } }
  }
});
txt('F', 1168, 2403, 104, { a: 'l', w: 59 });
txt('PGC-1α-responsive Transcripts', 1259, 2422, 46, { a: 'l', b: 1, w: 635 });
txt('Fold Control', 1203, 2702, 36, { rot: 1, w: 202 });
txt('(normalized to 18S)', 1251, 2690, 36, { rot: 1, w: 317 });
</script>
</body>
</html>
